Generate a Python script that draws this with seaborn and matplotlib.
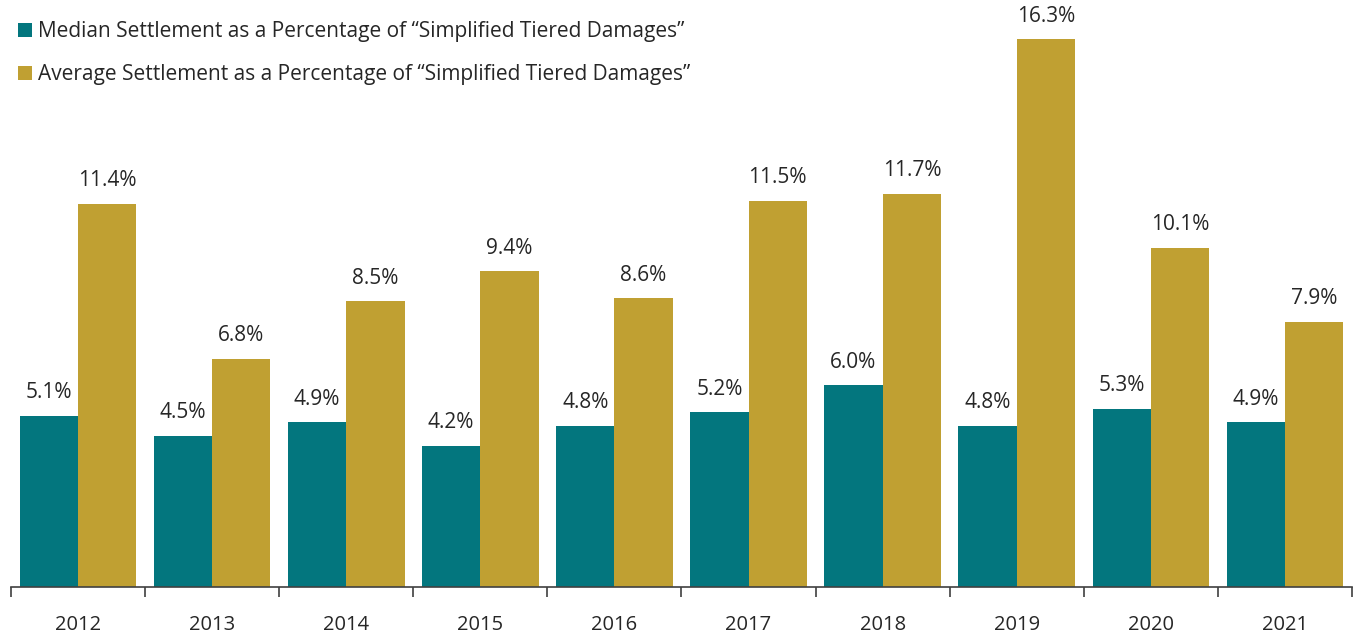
import matplotlib
matplotlib.use("Agg")
import matplotlib.pyplot as plt
import seaborn as sns
import pandas as pd
from matplotlib.patches import Patch

years = ["2012", "2013", "2014", "2015", "2016", "2017", "2018", "2019", "2020", "2021"]
median_vals = [5.1, 4.5, 4.9, 4.2, 4.8, 5.2, 6.0, 4.8, 5.3, 4.9]
average_vals = [11.4, 6.8, 8.5, 9.4, 8.6, 11.5, 11.7, 16.3, 10.1, 7.9]
series_names = ["Median Settlement as a Percentage of \u201cSimplified Tiered Damages\u201d",
                "Average Settlement as a Percentage of \u201cSimplified Tiered Damages\u201d"]
colors = ["#03767E", "#C0A032"]

df = pd.DataFrame({
    "year": years * 2,
    "value": median_vals + average_vals,
    "series": [series_names[0]] * len(years) + [series_names[1]] * len(years),
})

sns.set_theme(style="white")
plt.rcParams['font.family'] = ['Open Sans', 'DejaVu Sans']

fig = plt.figure(figsize=(13.57, 6.34), dpi=100)
ax = fig.add_axes([11/1357, 1 - 587/634, 1341/1357, 587/634])

sns.barplot(data=df, x="year", y="value", hue="series", order=years,
            hue_order=series_names, palette=colors, width=0.87,
            saturation=1, ax=ax, legend=False, linewidth=0)

for cont in ax.containers:
    ax.bar_label(cont, labels=[f"{v:.1f}%" for v in cont.datavalues],
                 padding=9, fontsize=15, color="#262626")

ax.set_ylim(0, 587/33.6)
ax.set_xlim(-0.5, len(years) - 0.5)
ax.set_xlabel("")
ax.set_ylabel("")
ax.set_yticks([])
for s in ["top", "right", "left"]:
    ax.spines[s].set_visible(False)
ax.spines["bottom"].set_color("#404040")
ax.spines["bottom"].set_linewidth(1.2)
ax.set_xticks(range(len(years)))
ax.set_xticklabels(years, fontsize=14.5, color="#262626")
ax.tick_params(axis="x", which="major", length=0, pad=20)
ax.set_xticks([i - 0.5 for i in range(len(years) + 1)], minor=True)
ax.tick_params(axis="x", which="minor", length=7, width=1.2, color="#404040", bottom=True)

handles = [Patch(facecolor=c, edgecolor="none") for c in colors]
leg = ax.legend(handles, series_names, loc="upper left",
                bbox_to_anchor=(7/1341, 1.0 - 21/587),
                frameon=False, fontsize=15, handlelength=0.65, handleheight=0.65,
                handletextpad=0.3, labelspacing=1.05, borderaxespad=0, borderpad=0)
for t in leg.get_texts():
    t.set_color("#262626")

fig.savefig("out.png", dpi=100)
